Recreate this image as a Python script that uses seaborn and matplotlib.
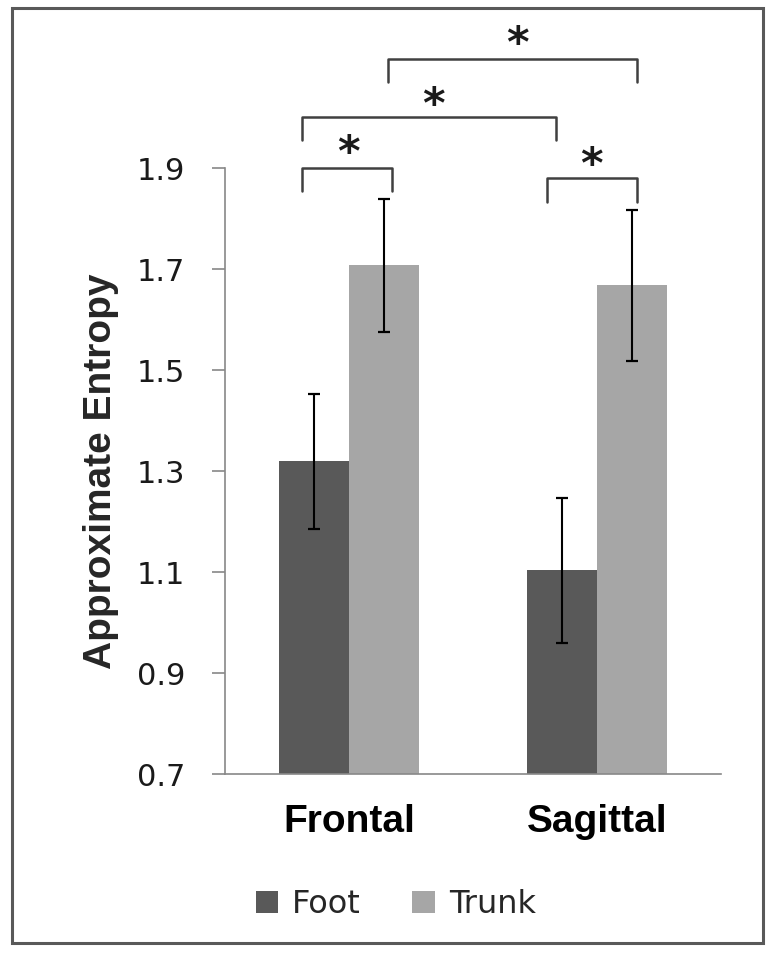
import matplotlib
matplotlib.use("Agg")
import matplotlib.pyplot as plt
import seaborn as sns
import pandas as pd
from matplotlib.patches import Rectangle

# ---- data ----
planes = ["Frontal", "Sagittal"]
segments = ["Foot", "Trunk"]
foot_means = [1.320, 1.104]
trunk_means = [1.708, 1.668]
foot_se = [0.134, 0.143]
trunk_se = [0.132, 0.150]
y_ticks = [0.7, 0.9, 1.1, 1.3, 1.5, 1.7, 1.9]
y_label = "Approximate Entropy"
sig_marker = "*"

df = pd.DataFrame({
    "Plane": planes * 2,
    "Segment": ["Foot"] * len(planes) + ["Trunk"] * len(planes),
    "ApEn": foot_means + trunk_means,
    "SE": foot_se + trunk_se,
})

sns.set_style("white")
plt.rcParams["font.family"] = ["DejaVu Sans"]

fig = plt.figure(figsize=(7.76, 9.56), dpi=100)
ax = fig.add_axes([0.290, 0.190, 0.639, 0.634])

palette = {"Foot": "#595959", "Trunk": "#a6a6a6"}
sns.barplot(data=df, x="Plane", y="ApEn", hue="Segment", order=planes,
            hue_order=segments, palette=palette, width=0.565, saturation=1,
            errorbar=None, ax=ax, edgecolor="none", linewidth=0)

# error bars at bar centres
for cont, seg in zip(ax.containers, segments):
    sub = df[df["Segment"] == seg].set_index("Plane").loc[planes]
    xs = [p.get_x() + p.get_width() / 2 for p in cont.patches]
    ax.errorbar(xs, sub["ApEn"].values, yerr=sub["SE"].values, fmt="none",
                ecolor="black", elinewidth=1.5, capsize=4.5, capthick=1.6,
                zorder=5)

ax.set_ylim(0.7, 1.9)
ax.set_xlim(-0.5, 1.5)
ax.set_yticks(y_ticks)
ax.set_yticklabels([f"{v:.1f}" for v in y_ticks], fontsize=22,
                   color="#1a1a1a")
ax.set_xticks([0, 1])
ax.set_xticklabels(planes, fontsize=28, fontweight="bold",
                   family="Liberation Sans", color="black")
ax.set_xticks([-0.5, 0.5, 1.5], minor=True)
ax.tick_params(axis="x", which="major", length=0, pad=21)
ax.tick_params(axis="x", which="minor", length=9, width=1.2,
               color="#888888", direction="out")
ax.tick_params(axis="y", which="major", length=9.5, width=1.2,
               color="#888888", direction="out", pad=19, left=True)
ax.set_xlabel("")
ax.set_ylabel(y_label, fontsize=28, fontweight="bold",
              family="Liberation Sans", va="center")
ax.yaxis.set_label_coords(-0.250, 0.5)

for s in ["top", "right"]:
    ax.spines[s].set_visible(False)
for s in ["left", "bottom"]:
    ax.spines[s].set_color("#888888")
    ax.spines[s].set_linewidth(1.2)

# significance brackets (x1, x2, top, leg bottom, star x, star y)
brackets = [
    (-0.19, 0.173, 1.900, 1.854, -0.004, 1.946),
    (-0.19, 0.835, 2.001, 1.955, 0.339, 2.041),
    (0.157, 1.161, 2.116, 2.070, 0.681, 2.161),
    (0.798, 1.161, 1.880, 1.833, 0.976, 1.922),
]
for x1, x2, yt, yb, sx, sy in brackets:
    ax.plot([x1, x1, x2, x2], [yb, yt, yt, yb], color="#404040", lw=1.8,
            clip_on=False, solid_joinstyle="round", zorder=6)
    fs = 31
    ax.annotate(sig_marker, xy=(sx, sy), xytext=(0, -0.48 * fs),
                textcoords="offset points", ha="center", va="baseline",
                fontsize=fs, fontweight="bold", color="#1a1a1a",
                annotation_clip=False)

# legend
handles, labels = ax.get_legend_handles_labels()
ax.legend(handles, labels, loc="center", bbox_to_anchor=(0.510, 0.054),
          bbox_transform=fig.transFigure, ncol=2, frameon=False,
          fontsize=23, handlelength=0.7, handleheight=0.7,
          handletextpad=0.45, columnspacing=1.6)

# outer frame
fig.patches.append(Rectangle((12 / 776, 1 - 943 / 956), 751 / 776, 935 / 956,
                             transform=fig.transFigure, fill=False,
                             edgecolor="#595959", linewidth=2.2))

fig.savefig("out.png", dpi=100)
